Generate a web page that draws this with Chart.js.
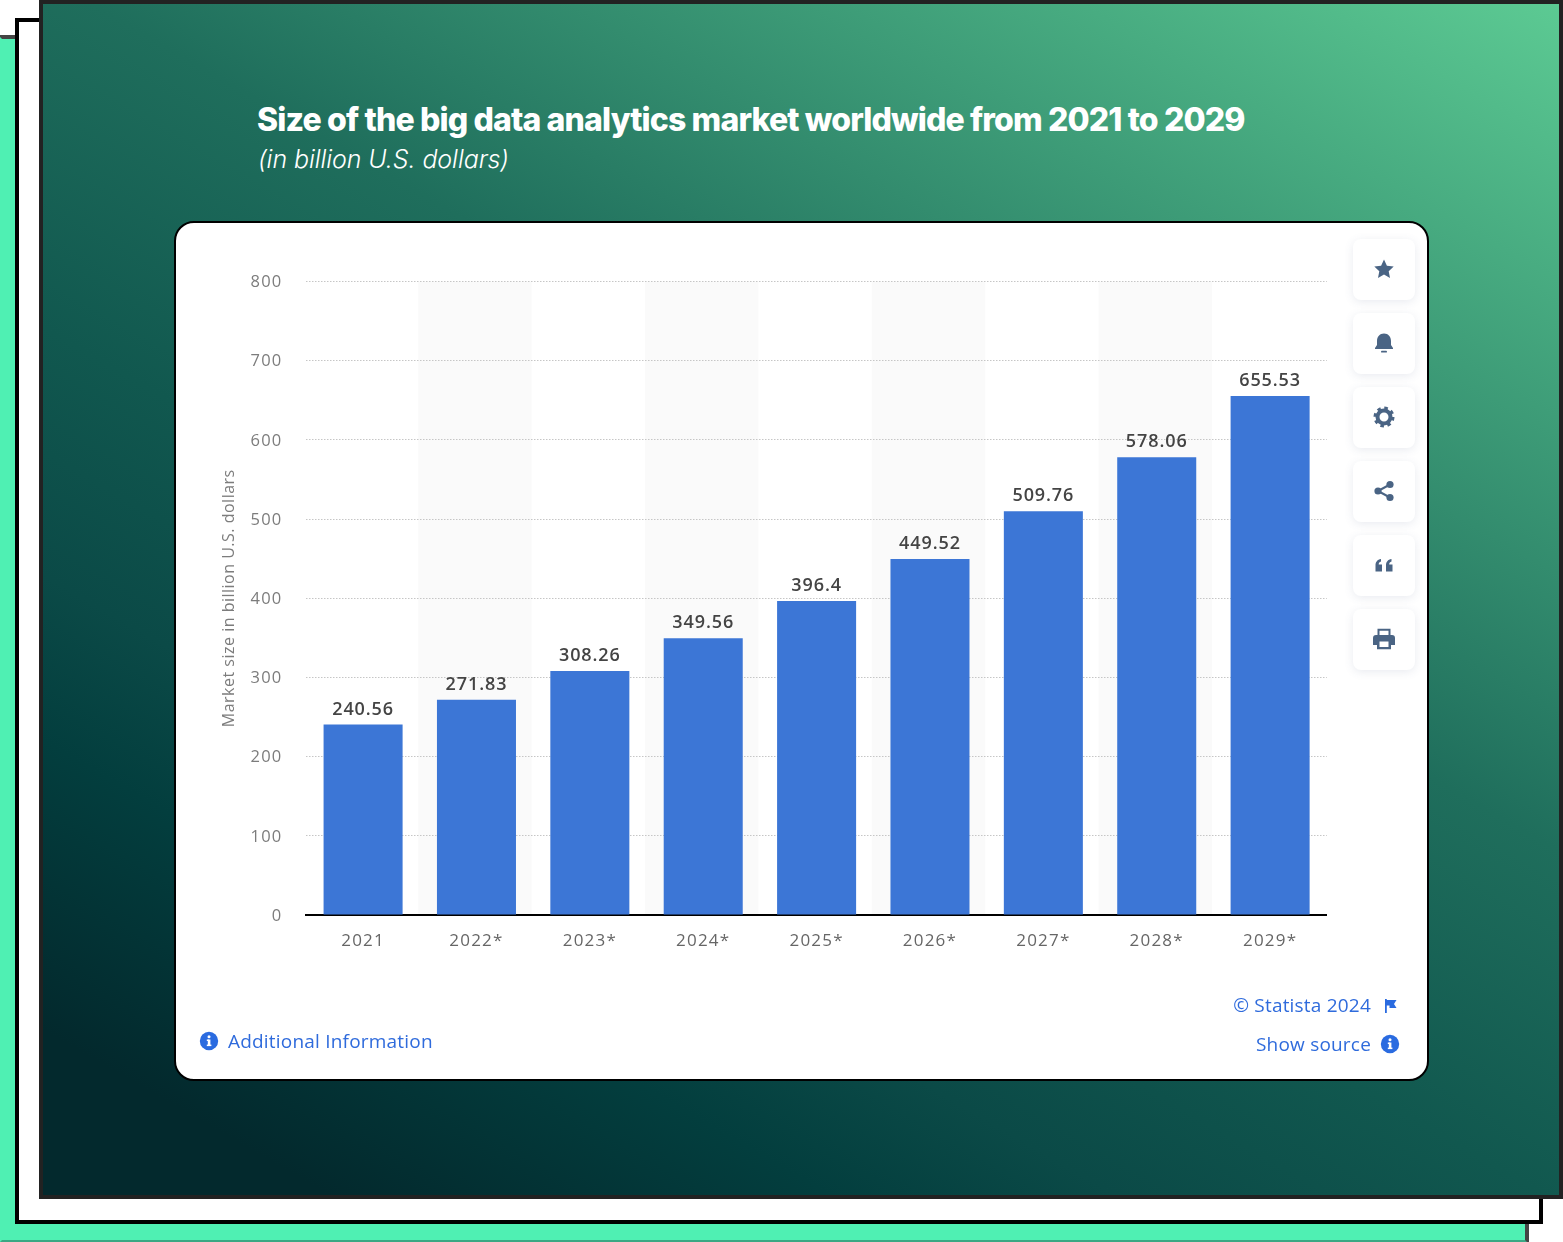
<!DOCTYPE html>
<html lang="en">

<head>
    <meta charset="UTF-8">
    <title>Size of the big data analytics market worldwide</title>
    <script src="https://cdn.jsdelivr.net/npm/chart.js"></script>
    <style>
        html, body { margin: 0; padding: 0; background: #fff; }
        body { position: relative; width: 1563px; height: 1242px; overflow: hidden; font-family: "Open Sans", sans-serif; }
        .layer { position: absolute; box-sizing: border-box; }
        #back { left: -2px; top: 35px; width: 1531px; height: 1209px; background: #4ff0b3; border: 4px solid #444; border-left-color: #4ff0b3; border-bottom-color: #3aa884; }
        #mid { left: 15px; top: 18px; width: 1528px; height: 1206px; background: #fff; border: 4px solid #000; }
        #front { left: 39px; top: 0; width: 1524px; height: 1199px; border: 4px solid #222;
            background: linear-gradient(210deg, #5cca93 0%, #1f6e5c 41%, #11584f 58%, #0b4a47 70%, #033e3e 78%, #03292d 92%, #03292d 100%); }
        #title { position: absolute; left: 257px; top: 100px; color: #fff; font: 800 32px Inter, sans-serif; letter-spacing: -.85px; white-space: nowrap; }
        #subtitle { position: absolute; left: 258px; top: 144px; color: #fff; font: italic 300 25px Inter, sans-serif; letter-spacing: -.08px; white-space: nowrap; }
        #card { left: 174px; top: 221px; width: 1255px; height: 860px; background: #fff; border: 2.5px solid #000; border-radius: 20px; }
        #chartBox { position: absolute; left: 176px; top: 223px; width: 1250px; height: 855px; }
        .btn { position: absolute; left: 1353px; width: 62px; height: 61px; background: #fff; border-radius: 8px; box-shadow: 0 2px 10px rgba(70, 90, 130, .12); }
        .btn svg { position: absolute; left: 19px; top: 18px; width: 24px; height: 24px; fill: #4a6484; }
        .link { position: absolute; color: #2f6bdc; font-size: 19px; white-space: nowrap; line-height: 26px; letter-spacing: .2px; }
        .ico { position: absolute; width: 20px; height: 20px; }
    </style>
</head>

<body>
    <div class="layer" id="back"></div>
    <div class="layer" id="mid"></div>
    <div class="layer" id="front"></div>
    <div id="title">Size of the big data analytics market worldwide from 2021 to 2029</div>
    <div id="subtitle">(in billion U.S. dollars)</div>
    <div class="layer" id="card"></div>
    <div id="chartBox"><canvas id="myChart" width="1250" height="855"></canvas></div>

    <div class="btn" style="top:239px"><svg viewBox="0 0 24 24"><path d="M12 2.500l2.900 6.200 6.800.8-5 4.700 1.300 6.800-6-3.400-6 3.400 1.300-6.800-5-4.700 6.800-.8z"/></svg></div>
    <div class="btn" style="top:313px"><svg viewBox="0 0 24 24"><path d="M12 2.500c4.300 0 7 3.200 7 7.500v4l2 3v1H3v-1l2-3v-4c0-4.300 2.700-7.500 7-7.500z"/><rect x="9" y="19.800" width="6" height="1.800" rx=".9"/></svg></div>
    <div class="btn" style="top:387px"><svg viewBox="0 0 24 24"><circle cx="12" cy="12" r="6.500" fill="none" stroke="#4a6484" stroke-width="4"/><circle cx="12" cy="12" r="9" fill="none" stroke="#4a6484" stroke-width="3" stroke-dasharray="3.500 3.570"/></svg></div>
    <div class="btn" style="top:461px"><svg viewBox="0 0 24 24"><circle cx="18" cy="5.500" r="3.600"/><circle cx="18" cy="18.500" r="3.600"/><circle cx="6" cy="12" r="3.600"/><path d="M6 12L18 5.500M6 12l12 6.500" stroke="#4a6484" stroke-width="2"/></svg></div>
    <div class="btn" style="top:535px"><svg viewBox="0 0 24 24"><path d="M3.500 18.500v-6c0-3.500 1.800-6 5.500-6.500v2.500c-1.500.4-2.200 1.300-2.300 3H10v7zM14 18.500v-6c0-3.500 1.800-6 5.500-6.500v2.500c-1.500.4-2.200 1.300-2.300 3h3.300v7z"/></svg></div>
    <div class="btn" style="top:609px"><svg viewBox="0 0 24 24"><path d="M5.500 1.800h13v6.500h-2V3.800h-9v4.500h-2z"/><path fill-rule="evenodd" d="M4 8h16a3 3 0 0 1 3 3v7h-4v4.200H5V18H1v-7a3 3 0 0 1 3-3zM7.500 14.500v5.500h9v-5.500z"/></svg></div>

    <svg class="ico" style="left:199px;top:1031px" viewBox="0 0 20 20"><circle cx="10" cy="10" r="9.200" fill="#2a6be0"/><rect x="8.800" y="8.500" width="2.600" height="6.500" fill="#fff"/><rect x="7.800" y="8.500" width="2" height="1.500" fill="#fff"/><rect x="7.800" y="13.600" width="4.600" height="1.500" fill="#fff"/><circle cx="10" cy="5.800" r="1.500" fill="#fff"/></svg>
    <div class="link" style="left:228px;top:1028px">Additional Information</div>
    <div class="link" style="right:192px;top:992px">© Statista 2024</div>
    <svg class="ico" style="left:1380px;top:996px" viewBox="0 0 20 20"><path d="M5 3h1.800v14H5zM6.800 4h9.700l-2.500 4 2.500 4H9.500v-2.500H6.800z" fill="#2a6be0"/></svg>
    <div class="link" style="right:192px;top:1031px">Show source</div>
    <svg class="ico" style="left:1380px;top:1034px" viewBox="0 0 20 20"><circle cx="10" cy="10" r="9.200" fill="#2a6be0"/><rect x="8.800" y="8.500" width="2.600" height="6.500" fill="#fff"/><rect x="7.800" y="8.500" width="2" height="1.500" fill="#fff"/><rect x="7.800" y="13.600" width="4.600" height="1.500" fill="#fff"/><circle cx="10" cy="5.800" r="1.500" fill="#fff"/></svg>

    <script>
        const years = ['2021', '2022*', '2023*', '2024*', '2025*', '2026*', '2027*', '2028*', '2029*'];
        const marketSize = [240.56, 271.83, 308.26, 349.56, 396.4, 449.52, 509.76, 578.06, 655.53];
        const yTitle = 'Market size in billion U.S. dollars';

        const fontName = '"Open Sans", sans-serif';

        // every second category gets a light band, behind the grid lines
        const bandsAndSpacing = {
            id: 'bandsAndSpacing',
            beforeDraw(chart) {
                const ctx = chart.ctx;
                const x = chart.scales.x;
                const area = chart.chartArea;
                const step = x.width / years.length;
                ctx.save();
                ctx.fillStyle = '#fafafa';
                years.forEach((y, i) => {
                    if (i % 2 === 1) {
                        ctx.fillRect(x.getPixelForValue(i) - step / 2 - 1.5, area.top, step, area.bottom - area.top);
                    }
                });
                ctx.restore();
                ctx.letterSpacing = '1.2px';
            }
        };

        // value on top of each bar, and the y title which needs tighter spacing than the ticks
        const extraText = {
            id: 'extraText',
            afterDatasetsDraw(chart) {
                const ctx = chart.ctx;
                const area = chart.chartArea;
                ctx.save();
                ctx.font = '600 18px ' + fontName;
                ctx.letterSpacing = '.9px';
                ctx.fillStyle = '#444';
                ctx.textAlign = 'center';
                ctx.textBaseline = 'alphabetic';
                chart.getDatasetMeta(0).data.forEach((bar, i) => {
                    ctx.fillText(String(marketSize[i]), bar.x, bar.y - 10);
                });
                ctx.translate(53, (area.top + area.bottom) / 2);
                ctx.rotate(-Math.PI / 2);
                ctx.font = '400 16px ' + fontName;
                ctx.letterSpacing = '.5px';
                ctx.fillStyle = '#7c7c7c';
                ctx.textBaseline = 'middle';
                ctx.fillText(yTitle, 0, 0);
                ctx.restore();
            }
        };

        new Chart(document.getElementById('myChart').getContext('2d'), {
            type: 'bar',
            data: {
                labels: years,
                datasets: [{
                    data: marketSize,
                    backgroundColor: '#3c76d6',
                    categoryPercentage: 1,
                    barPercentage: 0.697
                }]
            },
            options: {
                responsive: false,
                animation: false,
                layout: { padding: { left: 0, top: 58.5, right: 99.2, bottom: 0 } },
                plugins: { legend: { display: false }, tooltip: { enabled: false } },
                scales: {
                    x: {
                        afterFit: s => { s.height = 163; },
                        grid: { display: false },
                        border: { color: '#000', width: 2 },
                        ticks: { color: '#666', padding: 8, maxRotation: 0, font: { family: fontName, size: 17 } }
                    },
                    y: {
                        min: 0,
                        max: 800,
                        afterFit: s => { s.width = 130.4; },
                        grid: { color: '#c6c6c6', lineWidth: 1, drawTicks: false },
                        border: { display: false, dash: [1.5, 1.5] },
                        ticks: { stepSize: 100, color: '#7c7c7c', padding: 24, labelOffset: 1, font: { family: fontName, size: 16.5 } }
                    }
                }
            },
            plugins: [bandsAndSpacing, extraText]
        });
    </script>
</body>

</html>
